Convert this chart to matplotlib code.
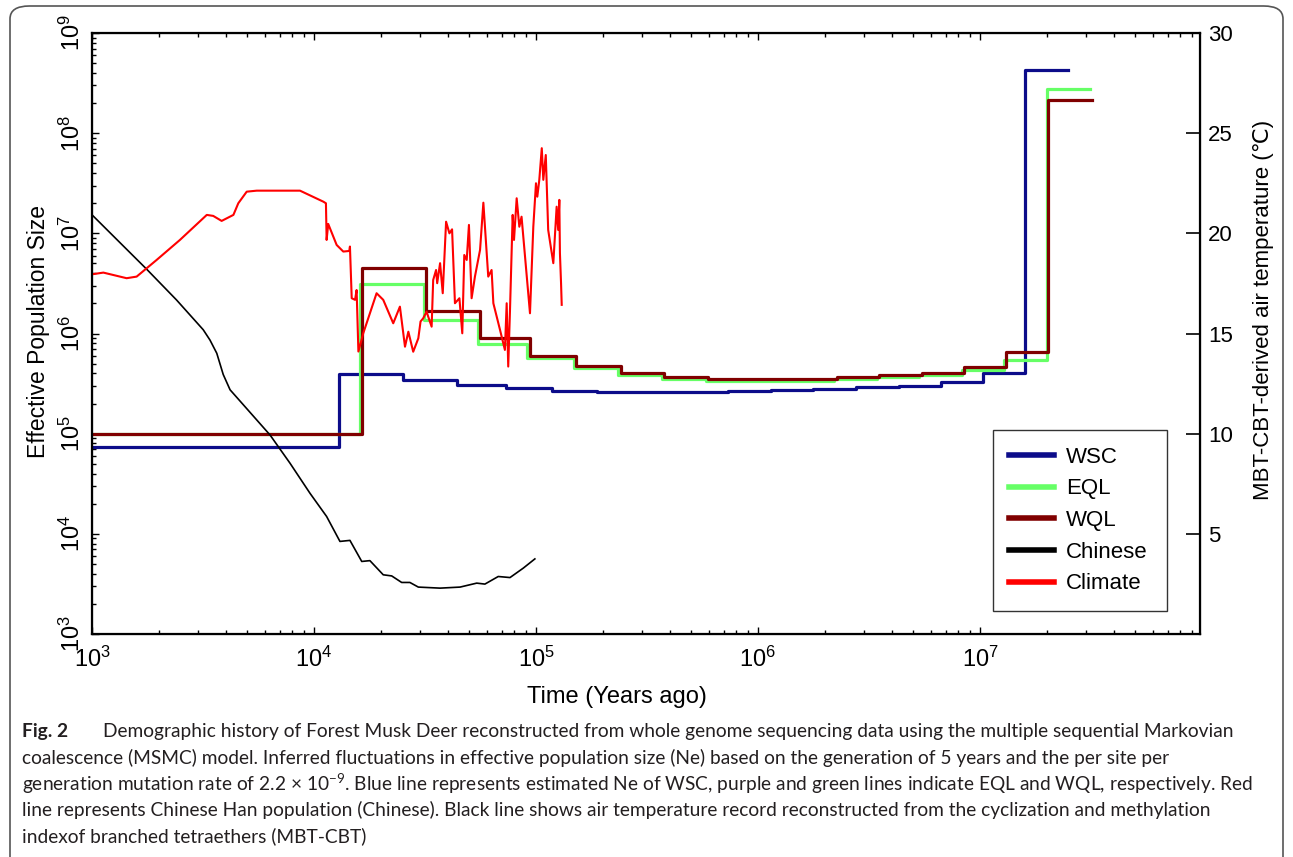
import matplotlib
matplotlib.use("Agg")
import matplotlib.pyplot as plt
from matplotlib.lines import Line2D
from matplotlib.patches import FancyBboxPatch

plt.rcParams["font.family"] = ["Liberation Sans", "DejaVu Sans"]

# MSMC step curves: segment edges (years ago) and Ne of each segment
wsc_t = [1e3, 1.29e4, 2.51e4, 4.39e4, 7.30e4, 1.18e5, 1.89e5, 2.99e5, 4.69e5,
         7.30e5, 1.14e6, 1.77e6, 2.76e6, 4.30e6, 6.65e6, 1.035e7, 1.595e7, 2.50e7]
wsc_ne = [7.3e4, 3.96e5, 3.4e5, 3.05e5, 2.85e5, 2.69e5, 2.61e5, 2.59e5, 2.63e5,
          2.67e5, 2.74e5, 2.82e5, 2.91e5, 3.02e5, 3.25e5, 4.05e5, 4.3e8]

eql_t = [1e3, 1.62e4, 3.12e4, 5.48e4, 9.14e4, 1.49e5, 2.35e5, 3.69e5, 5.83e5,
         9.16e5, 1.42e6, 2.21e6, 3.44e6, 5.34e6, 8.30e6, 1.28e7, 2.00e7, 3.13e7]
eql_ne = [1e5, 3.15e6, 1.37e6, 7.9e5, 5.7e5, 4.5e5, 3.85e5, 3.5e5, 3.38e5,
          3.35e5, 3.38e5, 3.5e5, 3.68e5, 3.85e5, 4.35e5, 5.4e5, 2.76e8]

wql_t = [1e3, 1.65e4, 3.19e4, 5.61e4, 9.37e4, 1.51e5, 2.42e5, 3.78e5, 5.97e5,
         9.37e5, 1.46e6, 2.26e6, 3.52e6, 5.46e6, 8.47e6, 1.31e7, 2.03e7, 3.21e7]
wql_ne = [1e5, 4.55e6, 1.68e6, 8.97e5, 6.0e5, 4.7e5, 4.0e5, 3.67e5, 3.53e5,
          3.5e5, 3.53e5, 3.67e5, 3.85e5, 4.05e5, 4.65e5, 6.6e5, 2.16e8]

# Chinese Han population
han_t = [1000, 1762, 2404, 3170, 3400, 3648, 3900, 4188, 4808, 6339, 7798,
         9594, 11400, 13090, 14520, 16410, 17860, 20510, 22390, 24830, 27040,
         29510, 36980, 45500, 54080, 58880, 67610, 76380, 87700, 98850]
han_ne = [1.53e7, 4.39e6, 2.16e6, 1.09e6, 8.6e5, 6.35e5, 3.9e5, 2.74e5,
          1.94e5, 9.7e4, 5.07e4, 2.54e4, 1.49e4, 8.4e3, 8.6e3, 5.3e3, 5.4e3,
          3.9e3, 3.8e3, 3.27e3, 3.27e3, 2.94e3, 2.87e3, 2.94e3, 3.22e3,
          3.15e3, 3.75e3, 3.66e3, 4.55e3, 5.62e3]

# MBT-CBT air temperature record
clim_t = [1007, 1125, 1432, 1589, 1954, 2489, 3289, 3516, 3837, 4335, 4560,
          4977, 5521, 8650, 11020, 11320, 11400, 11590, 12650, 13550, 14420,
          14520, 14790, 15310, 15560, 15850, 16670, 19140, 20510, 22750, 24380,
          25700, 26610, 27990, 29510, 30200, 31050, 32140, 33880, 34430, 35480,
          35890, 36980, 38020, 39360, 40740, 41880, 43150, 45190, 46560, 47530,
          48750, 49890, 51290, 53090, 55980, 57940, 60950, 63100, 64270, 68870,
          72440, 73790, 74990, 76380, 78520, 79620, 81850, 84140, 86100, 93970,
          97270, 100000, 101400, 103500, 106200, 107900, 110700, 113500,
          119700, 123900, 125900, 127400, 128200, 129700, 130600]
clim_temp = [17.96, 18.04, 17.76, 17.84, 18.67, 19.67, 20.92, 20.87, 20.62,
             20.92, 21.5, 22.08, 22.13, 22.13, 21.58, 21.5, 19.67, 20.47,
             19.42, 19.09, 19.12, 19.34, 16.76, 16.68, 17.17, 14.1, 15.01,
             17.01, 16.68, 15.51, 16.34, 14.34, 15.09, 14.09, 14.76, 15.6,
             15.76, 16.09, 15.34, 17.67, 18.17, 17.51, 18.51, 17.01, 20.58,
             20.0, 20.2, 16.51, 16.76, 15.01, 18.92, 18.67, 20.42, 16.76,
             17.84, 19.17, 21.53, 17.84, 18.17, 16.51, 15.18, 14.18, 16.51,
             13.35, 16.18, 20.92, 19.67, 21.75, 20.33, 20.83, 16.01, 20.33,
             22.5, 21.83, 22.67, 24.25, 22.67, 23.91, 20.17, 18.51, 21.33,
             20.17, 21.67, 19.01, 17.51, 16.43]

series = [("WSC", wsc_t, wsc_ne, "#0c0c8a"),
          ("EQL", eql_t, eql_ne, "#66ff66"),
          ("WQL", wql_t, wql_ne, "#800000")]

W, H = 1293, 857
fig = plt.figure(figsize=(W / 100, H / 100), dpi=100)
ax = fig.add_axes([92 / W, 1 - 634 / H, 1108 / W, 601 / H])

for name, t, ne, colour in series:
    ax.step(t, ne + ne[-1:], where="post", color=colour, lw=2.3)
ax.plot(han_t, han_ne, color="black", lw=1.2)

ax.set_xscale("log")
ax.set_yscale("log")
ax.set_xlim(1e3, 9.8e7)
ax.set_ylim(1e3, 1e9)
ax.set_xticks([1e3, 1e4, 1e5, 1e6, 1e7])
ax.tick_params(which="both", direction="in", top=True, right=False, width=1)
ax.tick_params(which="major", length=5)
ax.tick_params(which="minor", length=3)
ax.tick_params(axis="x", labelsize=17, pad=9)
ax.tick_params(axis="y", labelsize=17, labelrotation=90, pad=5)
for lab in ax.get_yticklabels():
    lab.set_va("center")
for s in ax.spines.values():
    s.set_linewidth(1.6)

ax.set_xlabel("Time (Years ago)", fontsize=17, va="center")
ax.xaxis.set_label_coords(0.474, -0.105)
ax.set_ylabel("Effective Population Size", fontsize=16.5, va="center")
ax.yaxis.set_label_coords(-0.0487, 0.504)

ax2 = ax.twinx()
ax2.plot(clim_t, clim_temp, color="#ff0000", lw=1.5)
ax2.set_ylim(0, 30)
ax2.set_yticks([5, 10, 15, 20, 25, 30])
ax2.tick_params(direction="in", length=10, width=1.2, labelsize=16, pad=6)
ax2.set_ylabel("MBT-CBT-derived air temperature (℃)", fontsize=16,
               rotation=90, va="center")
ax2.yaxis.set_label_coords(1.0569, 0.539)

handles = [Line2D([], [], color=c, lw=4) for _, _, _, c in series]
handles += [Line2D([], [], color="black", lw=4),
            Line2D([], [], color="#ff0000", lw=4)]
labels = ["WSC", "EQL", "WQL", "Chinese", "Climate"]
leg = ax2.legend(handles, labels, loc="upper left",
                 bbox_to_anchor=(0.813, 0.04, 0.157, 0.2994), mode="expand",
                 borderaxespad=0, fontsize=16, fancybox=False, framealpha=1,
                 edgecolor="#333333", handlelength=2.0, handletextpad=0.55,
                 labelspacing=0.48, borderpad=0.75)
leg.get_frame().set_linewidth(1.0)

# journal page frame and caption
frame = FancyBboxPatch((10 / W, -0.05), 1273 / W, 1 - 6 / H + 0.05,
                       boxstyle="round,pad=0,rounding_size=0.015",
                       transform=fig.transFigure, fill=False,
                       edgecolor="#555555", lw=1.2, clip_on=False)
fig.patches.append(frame)

cap_font = ["Lato", "DejaVu Sans"]
cap_size = 13.8
cap_lines = [
    "Demographic history of Forest Musk Deer reconstructed from whole genome "
    "sequencing data using the multiple sequential Markovian",
    "coalescence (MSMC) model. Inferred fluctuations in effective population "
    "size (Ne) based on the generation of 5 years and the per site per",
    "generation mutation rate of 2.2 × $\\mathdefault{10^{-9}}$. Blue line "
    "represents estimated Ne of WSC, purple and green lines indicate EQL and "
    "WQL, respectively. Red",
    "line represents Chinese Han population (Chinese). Black line shows air "
    "temperature record reconstructed from the cyclization and methylation",
    "indexof branched tetraethers (MBT-CBT)",
]
cap_y = [732, 758, 784, 810, 836]
fig.text(22 / W, 1 - cap_y[0] / H, "Fig. 2", family=cap_font,
         fontsize=cap_size, fontweight="bold", va="center", color="#231f20")
for i, (line, y) in enumerate(zip(cap_lines, cap_y)):
    x = 103 if i == 0 else 22
    fig.text(x / W, 1 - y / H, line, family=cap_font, fontsize=cap_size,
             va="center", color="#231f20")

fig.savefig("out.png", dpi=100)
